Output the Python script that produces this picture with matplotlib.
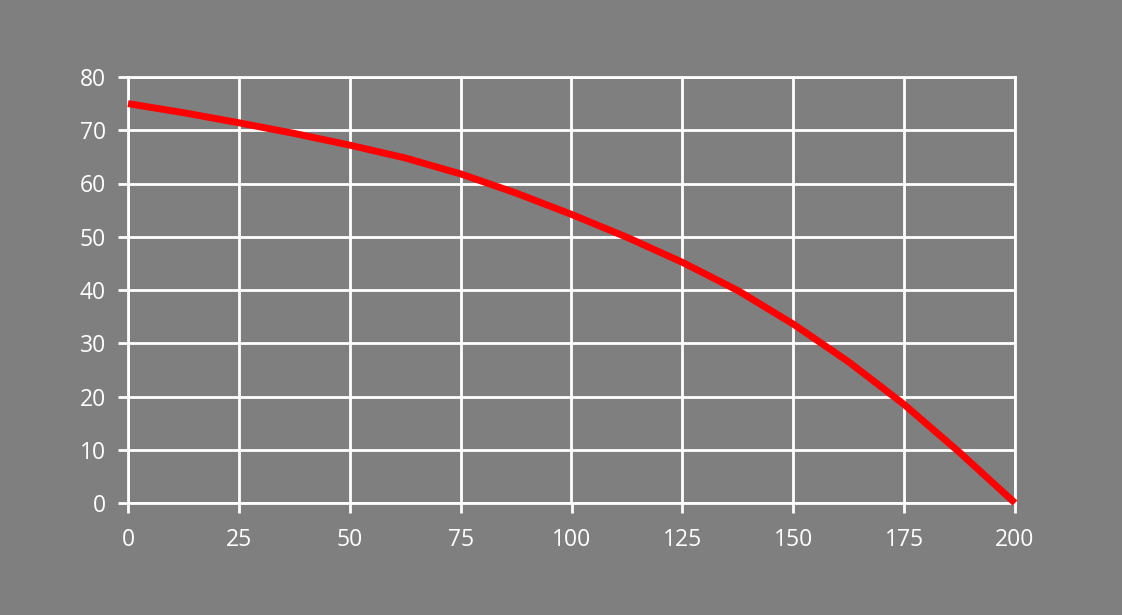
import matplotlib.pyplot as plt

# values
flow = [0, 12.5, 25, 37.5, 50, 62.5, 75, 87.5, 100, 112.5, 125, 137.5, 150, 162.5, 175, 187.5, 200]
head = [75.0, 73.3, 71.4, 69.4, 67.2, 64.8, 61.8, 58.2, 54.2, 49.9, 45.2, 39.9, 33.6, 26.5, 18.5, 9.5, 0.0]
x_ticks = [0, 25, 50, 75, 100, 125, 150, 175, 200]
y_ticks = [0, 10, 20, 30, 40, 50, 60, 70, 80]

bg = '#7f7f7f'
plt.rcParams['font.family'] = ['Open Sans', 'DejaVu Sans']

fig = plt.figure(figsize=(11.22, 6.15), dpi=100, facecolor=bg)
ax = fig.add_axes([128/1122, 1-503/615, (1015-128)/1122, (503-77)/615])
ax.set_facecolor(bg)

ax.plot(flow, head, color='#ff0000', linewidth=5, solid_capstyle='butt',
        solid_joinstyle='round', zorder=3, clip_on=False)

ax.set_xlim(0, 200)
ax.set_ylim(0, 80)
ax.set_xticks(x_ticks)
ax.set_yticks(y_ticks)
ax.grid(True, color='white', linewidth=2)
for s in ax.spines.values():
    s.set_color('white')
    s.set_linewidth(2)
ax.tick_params(colors='white', labelcolor='white', labelsize=16.5, length=7, width=2)
ax.tick_params(axis='x', pad=11)
ax.tick_params(axis='y', pad=9)

plt.savefig('out.png', dpi=100, facecolor=bg)
